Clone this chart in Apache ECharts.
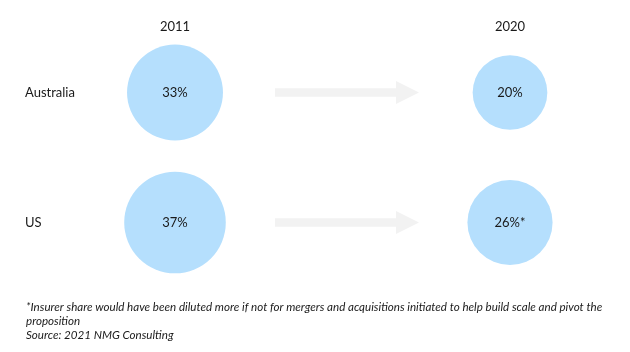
<!DOCTYPE html>
<html>
<head>
<meta charset="utf-8">
<script src="https://cdn.jsdelivr.net/npm/echarts@6/dist/echarts.min.js"></script>
<style>
    html, body { margin: 0; padding: 0; background: #fff; }
    #chart { width: 630px; height: 352px; }
</style>
</head>
<body>
<div id="chart"></div>
<script>
var years = ['2011', '', '2020'];
var markets = ['Australia', 'US'];
var share2011 = [33, 37];
var share2020 = [20, 26];
var notes2020 = ['', '*'];
var footnote = [
    '*Insurer share would have been diluted more if not for mergers and acquisitions initiated to help build scale and pivot the',
    'proposition',
    'Source: 2021 NMG Consulting'
];

var font = 'Lato, "Liberation Sans", sans-serif';

var bubbleSize = function(d) {
    return 16.7 * Math.sqrt(d[2]);
};

var bubbles = function(year, values, notes) {
    return {
        type: 'scatter',
        symbol: 'circle',
        symbolSize: bubbleSize,
        itemStyle: { color: '#b5dffd', opacity: 1 },
        label: {
            show: true,
            position: 'inside',
            color: '#1a1a1a',
            fontFamily: font,
            fontSize: 13,
            formatter: function(p) {
                return p.value[2] + '%' + (notes ? notes[p.dataIndex] : '');
            }
        },
        emphasis: { disabled: true },
        data: markets.map(function(m, i) {
            return [year, m, values[i]];
        })
    };
};

var option = {
    animation: false,
    title: {
        text: footnote.join('\n'),
        left: 21,
        top: 295,
        textStyle: {
            fontFamily: font,
            fontStyle: 'italic',
            fontWeight: 'normal',
            fontSize: 11.6,
            lineHeight: 14,
            color: '#1a1a1a'
        }
    },
    grid: {
        left: 175,
        right: 120,
        top: 92.5,
        bottom: 129.5,
        containLabel: false,
        outerBoundsMode: 'none'
    },
    xAxis: {
        type: 'category',
        data: years,
        position: 'top',
        offset: 51,
        boundaryGap: false,
        axisLine: { show: false },
        axisTick: { show: false },
        splitLine: { show: false },
        axisLabel: {
            interval: 0,
            margin: 8,
            color: '#1a1a1a',
            fontFamily: font,
            fontSize: 13
        }
    },
    yAxis: {
        type: 'category',
        data: markets,
        inverse: true,
        boundaryGap: false,
        axisLine: { show: false },
        axisTick: { show: false },
        splitLine: { show: false },
        axisLabel: {
            align: 'left',
            margin: 150,
            color: '#1a1a1a',
            fontFamily: font,
            fontSize: 13
        }
    },
    series: [
        {
            // arrows between the two years
            type: 'scatter',
            symbol: 'path://M0,7 L121,7 L121,0 L144,11 L121,22 L121,15 L0,15 Z',
            symbolSize: [144, 23],
            symbolOffset: [4.5, 0],
            itemStyle: { color: '#f2f2f2', opacity: 1 },
            emphasis: { disabled: true },
            data: markets.map(function(m) {
                return [1, m];
            })
        },
        bubbles('2011', share2011),
        bubbles('2020', share2020, notes2020)
    ]
};

echarts.init(document.getElementById('chart')).setOption(option);
</script>
</body>
</html>
